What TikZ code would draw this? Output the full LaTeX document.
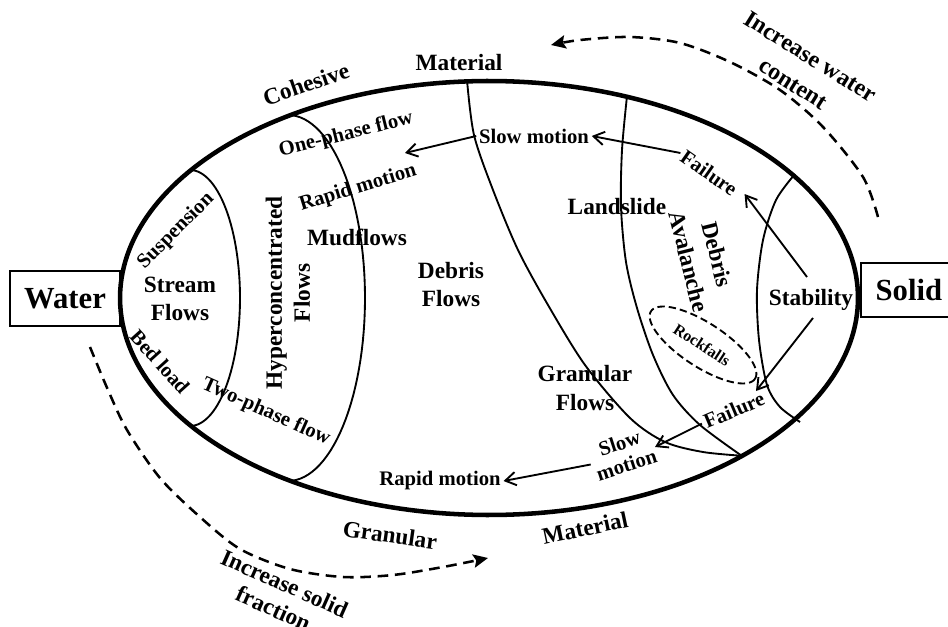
\documentclass[tikz,border=0pt]{standalone}
\usepackage{fontspec}
\setmainfont{Liberation Serif}
\usetikzlibrary{arrows.meta}
\begin{document}
\begin{tikzpicture}[x=0.75pt,y=-0.75pt,
  lbl/.style={font=\fontsize{17.5}{21}\selectfont\bfseries, align=center, inner sep=1pt},
  sm/.style={font=\fontsize{15.5}{18}\selectfont\bfseries, align=center, inner sep=2pt},
  big/.style={font=\fontsize{23}{27}\selectfont\bfseries},
  incr/.style={font=\fontsize{18}{24}\selectfont\bfseries, align=center, inner sep=1pt},
  divider/.style={line width=1.4pt, line join=round},
  rim/.style={line width=3.4pt, line join=round},
  arr/.style={line width=1.4pt, -{Straight Barb[length=8pt,width=10pt]}},
  dasharr/.style={line width=1.9pt, dash pattern=on 8pt off 5pt, -{Stealth[length=11pt,width=10pt,inset=2pt]}}
]
\useasboundingbox (0,0) rectangle (948,627);
\fill[white] (0,0) rectangle (948,627);
\clip (0,0) rectangle (948,627);

% end boxes
\node[big, draw, line width=1.4pt, minimum width=82.5pt, minimum height=41pt] (water) at (65,298.5) {Water};
\node[big, draw, line width=1.4pt, anchor=west, minimum height=40.5pt, inner xsep=11pt, text width=90pt, align=left] (solid) at (860,290) {Solid};

% inner boundaries
\draw[divider] plot[domain=-90:90,samples=60] ({190+50*cos(\x)},{298+128*sin(\x)});
\draw[divider] plot[domain=-90:90,samples=60] ({288+77*cos(\x)},{298+183*sin(\x)});
\draw[divider] plot[smooth] coordinates {(467,80) (474,135) (493,190) (518,250) (548,305) (585,365) (630,418) (665,442) (703,452) (745,456)};
\draw[divider] plot[smooth] coordinates {(627,96) (622,150) (621,207) (626,262) (637,308) (653,355) (673,395) (700,425) (742,456)};
\draw[divider] plot[smooth] coordinates {(795,174) (776,200) (763,240) (757,290) (759,340) (767,385) (780,407) (800,422)};

% rockfalls
\draw[line width=1.4pt, dash pattern=on 5.5pt off 3pt] plot[domain=0:360,samples=100] ({703+62*cos(\x)*cos(33)-22*sin(\x)*sin(33)},{345+62*cos(\x)*sin(33)+22*sin(\x)*cos(33)}) -- cycle;

% main ellipse
\draw[rim] plot[domain=0:360,samples=240] ({489+369*cos(\x)},{298+217*sin(\x)}) -- cycle;

% outside labels
\node[lbl, rotate=19] (cohesive) at (306,84) {Cohesive};
\node[lbl] (mattop) at (459,63) {Material};
\node[lbl, rotate=-8] (granbot) at (390,535) {Granular};
\node[lbl, rotate=12] (matbot) at (585,528) {Material};
\node[incr, rotate=-32] (incwater) at (802,70) {Increase water\\content};
\node[incr, rotate=-24, font=\fontsize{17.5}{20.5}\selectfont\bfseries] (incsolid) at (279,596) {Increase solid\\fraction};

% inside labels
\node[sm, rotate=14] (onephase) at (346,135) {One-phase flow};
\node[sm, rotate=17] (rapidtop) at (358,188) {Rapid motion};
\node[sm] (slowtop) at (534,136) {Slow motion};
\node[sm, rotate=-35] (failtop) at (709,173) {Failure};
\node[sm, rotate=45] (susp) at (176,231) {Suspension};
\node[lbl] (stream) at (180,299) {Stream\\Flows};
\node[sm, rotate=-48] (bedload) at (160,362) {Bed load};
\node[sm, rotate=-24] (twophase) at (266,412) {Two-phase flow};
\node[lbl, rotate=90] (hyper) at (288,293) {Hyperconcentrated\\Flows};
\node[lbl] (mud) at (357,237) {Mudflows};
\node[lbl] (debris) at (451,285) {Debris\\Flows};
\node[lbl] (landslide) at (617,207) {Landslide};
\node[lbl, rotate=-76, font=\fontsize{17.5}{22}\selectfont\bfseries] (aval) at (703,258) {Debris\\Avalanche};
\node[lbl] (stab) at (811,300) {Stability};
\node[font=\fontsize{12}{14}\selectfont\bfseries, rotate=-33, inner sep=1pt] (rock) at (702,345) {Rockfalls};
\node[lbl, font=\fontsize{17.5}{22}\selectfont\bfseries] (granflows) at (585,388) {Granular\\Flows};
\node[sm, rotate=23] (failbot) at (734,410) {Failure};
\node[sm, rotate=18, font=\fontsize{15.5}{17}\selectfont\bfseries] (slowbot) at (623,454) {Slow\\motion};
\node[sm] (rapidbot) at (440,481) {Rapid motion};

% arrows
\coordinate (tipA) at (405,153);
\coordinate (tipB) at (756,391);
\coordinate (tipC) at (655,447);
\draw[arr] (slowtop.west) -- (tipA);
\draw[arr] (failtop.west) -- (slowtop.east);
\draw[arr] ([shift={(-4,-23)}]stab.center) -- ([shift={(7,1)}]failtop.east);
\draw[arr] ([shift={(2,18)}]stab.center) -- (tipB);
\draw[arr] (failbot.west) -- (tipC);
\draw[arr] (slowbot.west) -- (rapidbot.east);

% dashed trend arrows
\draw[dasharr] plot[smooth] coordinates {(878,217) (863,177) (823,127) (780,90) (730,62) (680,43) (630,37) (580,40) (551,45)};
\draw[dasharr] plot[smooth] coordinates {(90,347) (108,390) (127,430) (160,478) (200,517) (240,549) (290,569) (343,577) (393,575) (443,567) (488,558)};
\end{tikzpicture}
\end{document}
